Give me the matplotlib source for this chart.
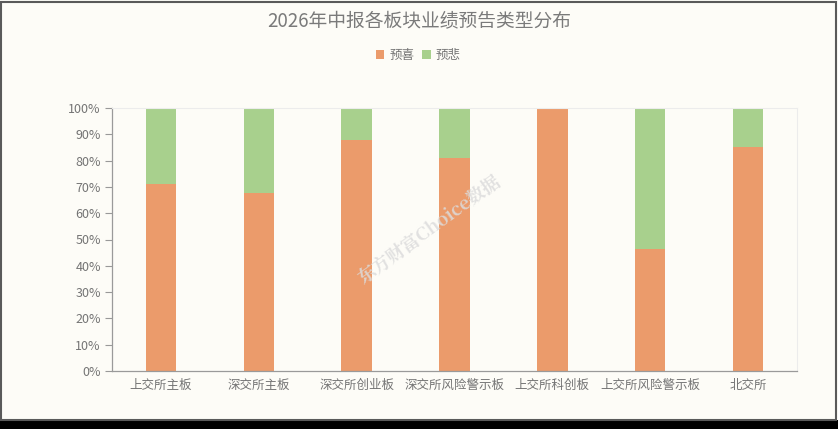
import matplotlib
matplotlib.use("Agg")
import matplotlib.pyplot as plt
from matplotlib.patches import Rectangle

plt.rcParams['font.family'] = ['Noto Sans CJK SC', 'DejaVu Sans']

# data (percent of companies)
boards = ["上交所主板", "深交所主板", "深交所创业板", "深交所风险警示板",
          "上交所科创板", "上交所风险警示板", "北交所"]
good = [71.2, 67.7, 87.9, 81.0, 100.0, 46.4, 85.3]   # 预喜
bad = [100 - v for v in good]                        # 预悲

c_good = "#eb9b6b"
c_bad = "#a8d08d"
txt = "#747474"

fig = plt.figure(figsize=(8.38, 4.29), dpi=100, facecolor="#fdfcf7")

# outer frame: thin gray border, black strip at the bottom
fig.patches.append(Rectangle((0, 0), 1, 9 / 429, transform=fig.transFigure,
                             facecolor="black", edgecolor="none", zorder=0))
fig.patches.append(Rectangle((1 / 838, 9 / 429), 1 - 3 / 838, 1 - 11 / 429,
                             transform=fig.transFigure, facecolor="none",
                             edgecolor="#5a5a5a", linewidth=1.5, zorder=1))

ax = fig.add_axes([112 / 838, 58 / 429, 685 / 838, 263 / 429])
ax.set_facecolor("#fdfcf7")

x = range(len(boards))
ax.bar(x, good, width=0.31, color=c_good, label="预喜", zorder=2)
ax.bar(x, bad, width=0.31, bottom=good, color=c_bad, label="预悲", zorder=2)

ax.set_xlim(-0.5, len(boards) - 0.5)
ax.set_ylim(0, 100)
ax.set_yticks(range(0, 101, 10))
ax.set_yticklabels([f"{v}%" for v in range(0, 101, 10)])
ax.set_xticks(list(x))
ax.set_xticklabels(boards)
ax.tick_params(axis="y", colors="#999999", labelcolor=txt, labelsize=9,
               length=5, width=0.8, pad=3)
ax.tick_params(axis="x", length=0, labelcolor=txt, labelsize=9, pad=6)

for s in ["left", "bottom"]:
    ax.spines[s].set_color("#9a9a9a")
    ax.spines[s].set_linewidth(0.9)
for s in ["top", "right"]:
    ax.spines[s].set_color("#ececec")
    ax.spines[s].set_linewidth(0.8)

fig.text(0.5, 1 - 22 / 429, "2026年中报各板块业绩预告类型分布", ha="center",
         va="center", fontsize=13.5, color="#7a7a7a")

leg = fig.legend(loc="center", bbox_to_anchor=(418 / 838, 1 - 55 / 429), ncol=2,
                 frameon=False, fontsize=9, handlelength=0.7, handleheight=0.7,
                 handletextpad=0.4, columnspacing=0.6, labelcolor=txt)

# watermark
fig.text(430 / 838, 1 - 230 / 429, "东方财富Choice数据", ha="center", va="center",
         rotation=36, fontsize=13, fontweight="bold", color="#dcdcdc",
         alpha=0.85, family=["Noto Serif CJK SC", "Noto Sans CJK SC", "DejaVu Sans"],
         zorder=5)

fig.savefig("out.png", dpi=100, facecolor=fig.get_facecolor())
